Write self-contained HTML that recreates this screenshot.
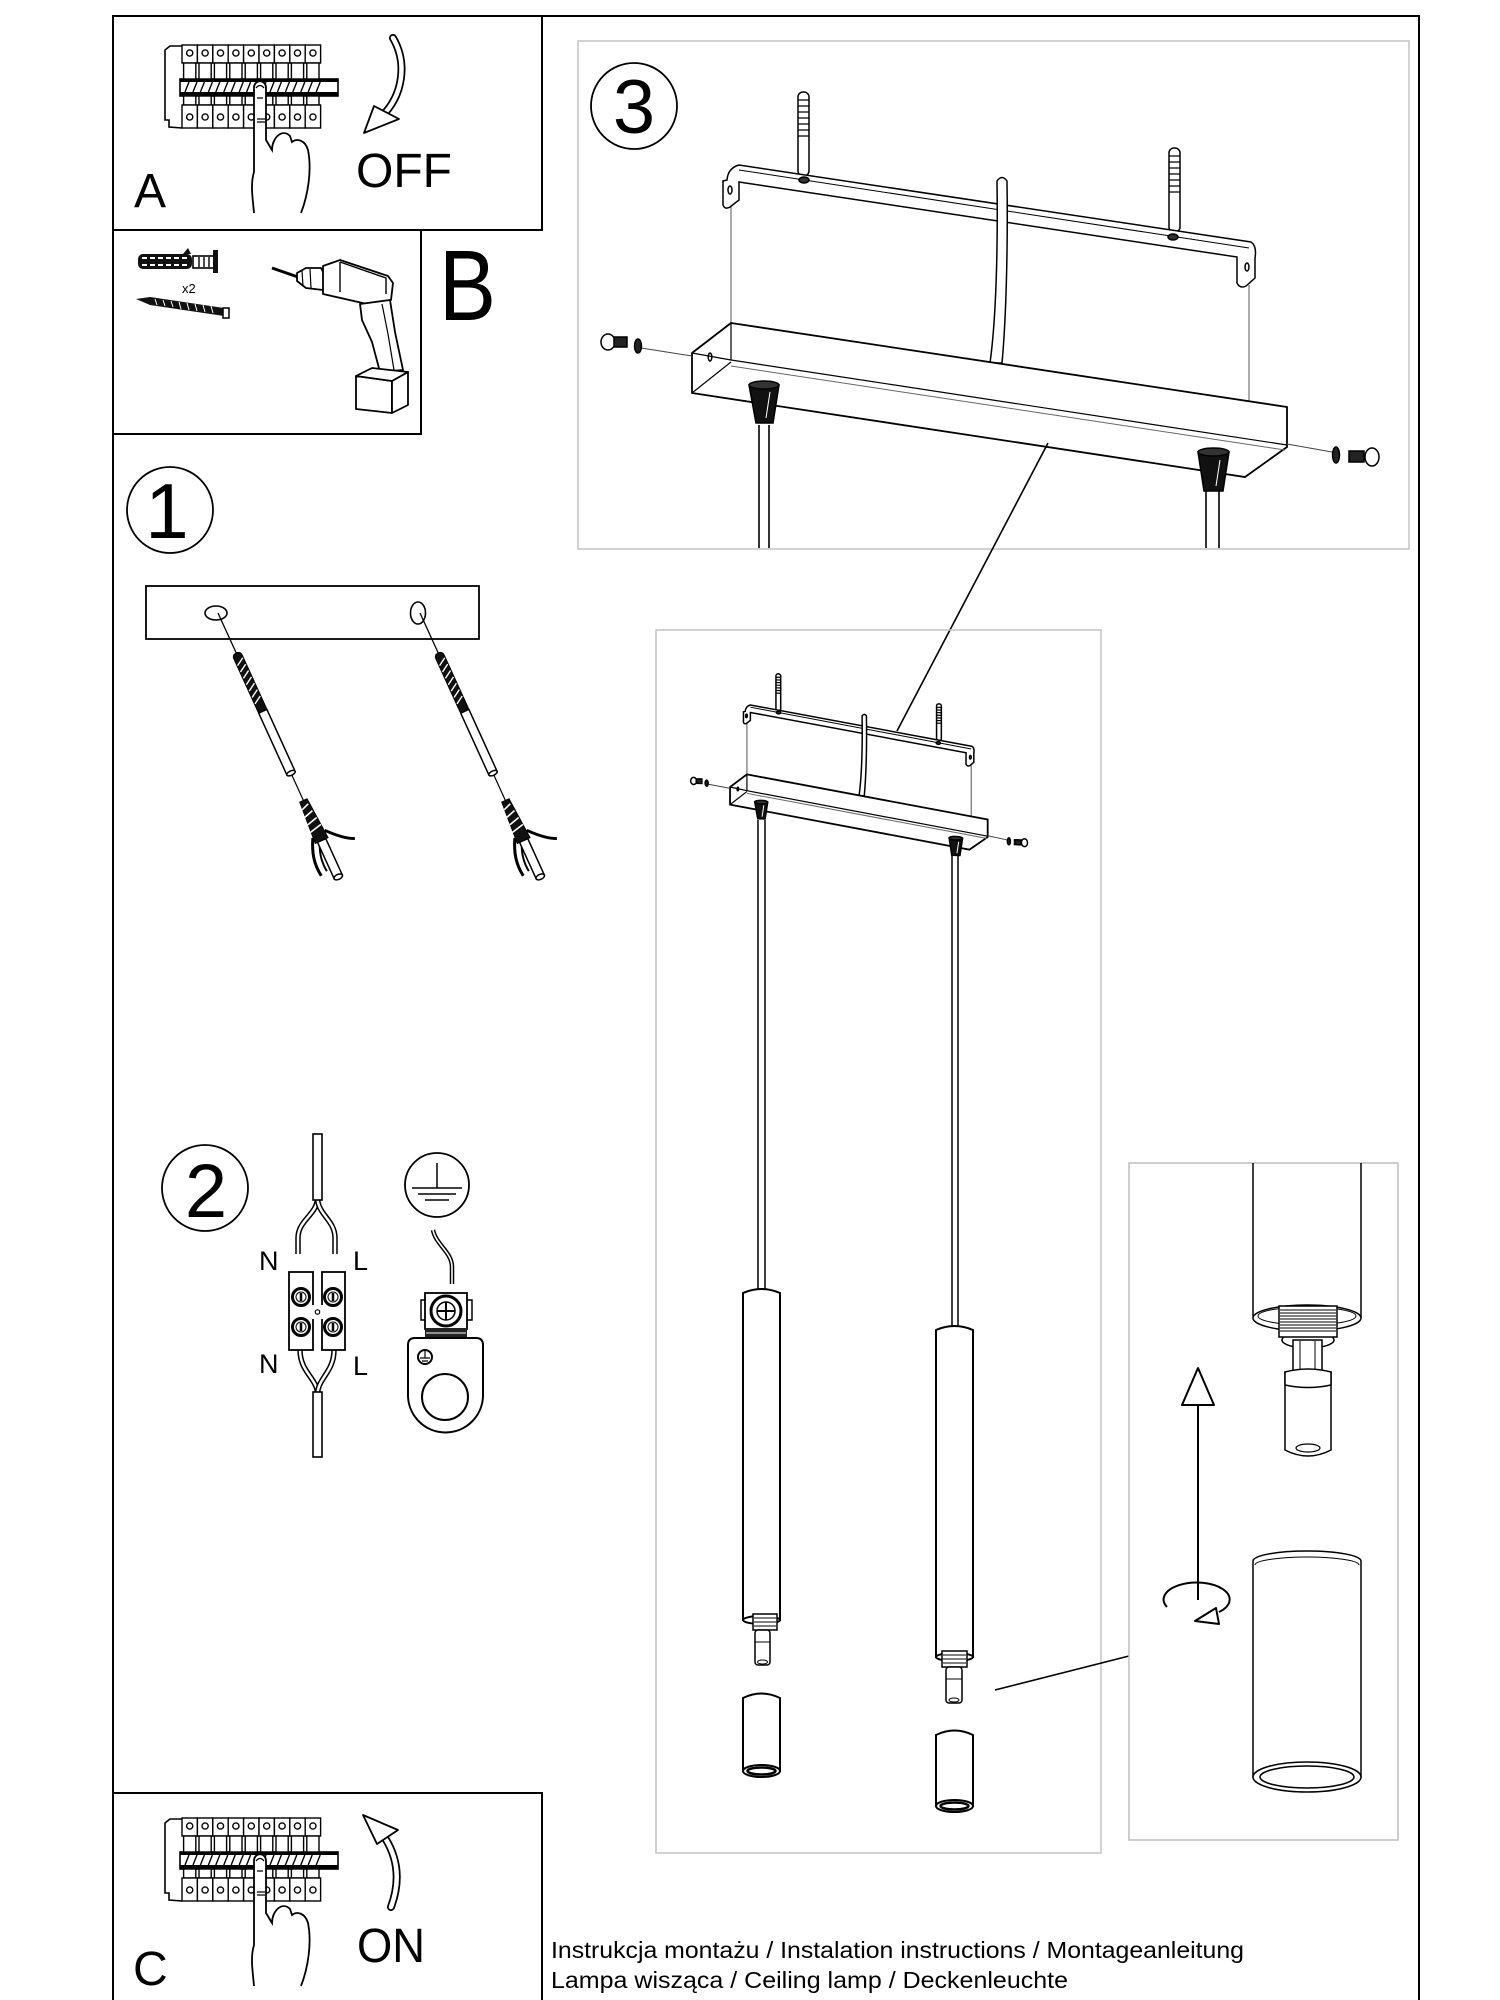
<!DOCTYPE html>
<html><head><meta charset="utf-8">
<style>
html,body{margin:0;padding:0;background:#fff}
svg{display:block}
text{font-family:"Liberation Sans",Arial,sans-serif;fill:#000}
.c *{vector-effect:non-scaling-stroke}
</style></head>
<body>
<svg width="1500" height="2000" viewBox="0 0 1500 2000" xmlns="http://www.w3.org/2000/svg">
<rect width="1500" height="2000" fill="#fff"/>
<defs>
 <g id="mod" stroke="#000" fill="#fff" stroke-width="1.4">
  <rect x="0" y="45" width="15.4" height="18"/>
  <circle cx="7.7" cy="53" r="3.1"/>
  <rect x="1.6" y="63" width="12.2" height="16"/>
  <rect x="1.6" y="96" width="12.2" height="9"/>
  <rect x="0" y="105" width="15.4" height="23"/>
  <circle cx="7.7" cy="117" r="3.1"/>
  <path d="M3,92 L7,82 M11,92 L15,82" fill="none"/>
 </g>
 <g id="brk">
  <path d="M182,46 L170,46 L165,50 L165,120 L169,120 L169,127 L182,128" fill="#fff" stroke="#000" stroke-width="1.6"/>
  <rect x="180" y="79" width="158" height="17" fill="#fff" stroke="#000" stroke-width="1.6"/>
  <rect x="180" y="79" width="158" height="3"/>
  <rect x="180" y="92" width="158" height="4"/>
  <use href="#mod" x="182"/><use href="#mod" x="197.4"/><use href="#mod" x="212.8"/>
  <use href="#mod" x="228.2"/><use href="#mod" x="243.6"/><use href="#mod" x="259"/>
  <use href="#mod" x="274.4"/><use href="#mod" x="289.8"/><use href="#mod" x="305.2"/>
  <path d="M254,213 C253,200 250,185 254,172 L254,88 C254,79 266,79 266,88 L266,140 C268,143 270,147 272,150 C272,138 282,128 290,136 L292,142 C297,138 305,140 308,150 C312,170 308,195 301,213" fill="#fff" stroke="#000" stroke-width="1.8"/>
  <path d="M256,88 Q260,83 264,88 M257,98 L263,98 M257,119 L265,119 M257,122 L265,122" fill="none" stroke="#000" stroke-width="1.2"/>
 </g>
 <g id="anc" stroke="#000">
  <line x1="0" y1="0" x2="0" y2="46" stroke-width="1.3"/>
  <rect x="-4.5" y="44" width="9" height="66" rx="4" fill="#111" stroke-width="1.2"/>
  <path d="M-4,56 L4,51 M-4,63 L4,58 M-4,70 L4,65 M-4,77 L4,72 M-4,84 L4,79 M-4,91 L4,86 M-4,98 L4,93" stroke="#fff" stroke-width="1.4"/>
  <rect x="-4.5" y="108" width="9" height="68" fill="#fff" stroke-width="1.5"/>
  <ellipse cx="0" cy="176" rx="4.5" ry="2.2" fill="#fff" stroke-width="1.5"/>
  <line x1="0" y1="178" x2="0" y2="206" stroke-width="1.2"/>
  <path d="M-4,206 L4,206 L7,250 L-7,250 Z" fill="#111"/>
  <path d="M-5,214 L3,211 M-6,222 L4,219 M-6,230 L5,227 M-7,238 L6,235" stroke="#fff" stroke-width="1.6"/>
  <path d="M-7,244 C-14,257 -17,268 -15,282" fill="none" stroke-width="3"/>
  <path d="M-3,252 C-8,262 -9,272 -8,280" fill="none" stroke-width="2"/>
  <path d="M7,242 C14,250 22,258 31,262" fill="none" stroke-width="3"/>
  <rect x="-4.5" y="250" width="9" height="40" fill="#fff" stroke-width="1.5"/>
  <ellipse cx="0" cy="290" rx="4.5" ry="2.5" fill="#fff" stroke-width="1.5"/>
 </g>
 <g id="canopy" class="c" stroke="#000" fill="none" stroke-width="1.5">
  <!-- anchors -->
  <rect x="798" y="92" width="11" height="84" rx="5" fill="#fff"/>
  <path d="M798,100 H809 M798,106 H809 M798,112 H809 M798,118 H809 M798,124 H809 M798,130 H809 M798,136 H809" stroke-width="1.2"/>
  <rect x="1169" y="148" width="11" height="84" rx="5" fill="#fff"/>
  <path d="M1169,156 H1180 M1169,162 H1180 M1169,168 H1180 M1169,174 H1180 M1169,180 H1180 M1169,186 H1180 M1169,192 H1180" stroke-width="1.2"/>
  <!-- plate lines -->
  <path d="M731,206 L731,323 M1249,285 L1249,402" stroke="#555" stroke-width="1"/>
  <!-- bracket -->
  <path d="M727,180 Q728,168 739,165 L1251,242 Q1257,246 1255,258 L1255,278 L1246,286 Q1240,289 1237,283 L1237,257 L739,182 L739,200 L730,207 Q725,210 723,205 L723,181 Z" fill="#fff"/>
  <path d="M739,170 L1249,248" stroke-width="1"/>
  <ellipse cx="730" cy="190" rx="2" ry="4"/>
  <ellipse cx="1247" cy="267" rx="2" ry="4"/>
  <ellipse cx="804" cy="180" rx="5" ry="3" fill="#333"/>
  <ellipse cx="1173" cy="237" rx="5" ry="3" fill="#333"/>
  <!-- cable -->
  <path d="M997,181 C998,250 996,320 990,363 L1002,363 C1006,320 1008,250 1007,181 Q1002,174 997,181 Z" fill="#fff"/>
  <!-- canopy box -->
  <path d="M731,323 L1287,407 L1287,447 L1245,477 L692,393 L692,353 Z" fill="#fff" stroke-width="1.8"/>
  <path d="M692,353 L731,360 L1287,445 M731,323 L731,360 M692,393 L731,362" stroke-width="1.2"/>
  <path d="M731,366 L1285,450" stroke="#666" stroke-width="1"/>
  <ellipse cx="710" cy="357" rx="1.8" ry="4"/>
  <!-- knobs -->
  <path d="M749,385 L779,385 L773,423 L756,423 Z" fill="#111"/>
  <ellipse cx="764" cy="385" rx="15" ry="4" fill="#333"/>
  <path d="M770,392 L766,418" stroke="#fff" stroke-width="1"/>
  <path d="M1198,452 L1229,452 L1223,491 L1204,491 Z" fill="#111"/>
  <ellipse cx="1213.5" cy="452" rx="15.5" ry="4" fill="#333"/>
  <path d="M1220,460 L1216,486" stroke="#fff" stroke-width="1"/>
  <!-- screws -->
  <path d="M641,348 L692,356 M1287,444 L1332,452" stroke="#444" stroke-width="1"/>
  <ellipse cx="608" cy="342" rx="7" ry="8" fill="#fff"/>
  <rect x="614" y="337" width="13" height="10" fill="#222"/>
  <ellipse cx="638" cy="346" rx="3.5" ry="7" fill="#222"/>
  <ellipse cx="1336" cy="455" rx="3.5" ry="8" fill="#222"/>
  <rect x="1349" y="451" width="15" height="11" fill="#222"/>
  <ellipse cx="1372" cy="457" rx="7" ry="9" fill="#fff"/>
 </g>
</defs>

<!-- page frame -->
<path d="M113,2000 L113,16 L1419,16 L1419,2000" fill="none" stroke="#000" stroke-width="2"/>
<rect x="113" y="16" width="429" height="214" fill="none" stroke="#000" stroke-width="2"/>
<rect x="113" y="230" width="308" height="204" fill="none" stroke="#000" stroke-width="2"/>
<path d="M113,1793 L542,1793 L542,2000" fill="none" stroke="#000" stroke-width="2"/>

<!-- BOX A -->
<use href="#brk"/>
<path d="M393,38 C407,62 404,95 381,117" fill="none" stroke="#000" stroke-width="8" stroke-linecap="round"/>
<path d="M393,38 C407,62 404,95 381,117" fill="none" stroke="#fff" stroke-width="4.5" stroke-linecap="round"/>
<path d="M364,133 L374,106 L399,119 Z" fill="#fff" stroke="#000" stroke-width="1.8" stroke-linejoin="round"/>
<text x="356" y="187" font-size="48">OFF</text>
<text x="134" y="207" font-size="48">A</text>

<!-- BOX B -->
<rect x="138" y="254" width="54" height="15" rx="5" fill="#111"/>
<path d="M142,258 h5 M150,258 h5 M158,258 h5 M166,258 h5 M174,258 h5 M182,258 h5 M142,265 h5 M150,265 h5 M158,265 h5 M166,265 h5 M174,265 h5 M182,265 h5" stroke="#fff" stroke-width="2"/>
<path d="M183,254 L188,248 L191,254 Z" fill="#111"/>
<rect x="193" y="256" width="21" height="12" fill="#fff" stroke="#000" stroke-width="1.6"/>
<path d="M199,257 V267 M204,257 V267 M209,257 V267" stroke="#000" stroke-width="1.4"/>
<rect x="213" y="250" width="5" height="23" fill="#111"/>
<text x="182" y="293" font-size="13">x2</text>
<path d="M136,299 L150,297 L224,308 L224,316 L150,305 Z" fill="#111"/>
<path d="M155,299 l2,6 M163,300 l2,6 M171,301 l2,6 M179,302 l2,7 M187,303 l2,7 M195,304 l2,7 M203,305 l2,7 M211,306 l2,7" stroke="#fff" stroke-width="1"/>
<rect x="223" y="308" width="6" height="10" fill="#fff" stroke="#000" stroke-width="1.5"/>
<!-- drill -->
<g stroke="#000" stroke-width="1.8" fill="#fff" stroke-linejoin="round">
 <path d="M272,268 L298,277" stroke-width="3"/>
 <path d="M297,273 L306,268 L321,268 L325,276 L323,290 L306,288 L297,281 Z"/>
 <path d="M302,271 L303,286 M310,269 L311,288" fill="none" stroke-width="1.2"/>
 <path d="M323,266 L340,260 L388,276 L393,283 L391,300 L367,304 L323,294 Z"/>
 <path d="M340,262 L340,292 M340,262 L386,278 L386,294" fill="none" stroke-width="1.4"/>
 <path d="M360,304 L390,300 L395,332 L403,370 L380,372 L372,342 L362,320 Z"/>
 <path d="M382,304 L388,334 L394,370" fill="none" stroke-width="1.2"/>
 <path d="M356,376 L392,381 L392,413 L356,409 Z"/>
 <path d="M392,381 L408,372 L408,405 L392,413 Z"/>
 <path d="M356,376 L372,368 L408,372 L392,381 Z"/>
</g>
<text x="439" y="320" font-size="100" textLength="57" lengthAdjust="spacingAndGlyphs">B</text>

<!-- STEP 1 -->
<circle cx="170" cy="510" r="43" fill="none" stroke="#000" stroke-width="1.8"/>
<text x="167" y="538" font-size="78" text-anchor="middle">1</text>
<rect x="146" y="586" width="333" height="53" fill="#fff" stroke="#000" stroke-width="1.8"/>
<ellipse cx="216" cy="613" rx="11" ry="7" fill="#fff" stroke="#000" stroke-width="1.6"/>
<ellipse cx="418" cy="613" rx="7.5" ry="11" fill="#fff" stroke="#000" stroke-width="1.6"/>
<use href="#anc" transform="translate(218,613) rotate(-24.5)"/>
<use href="#anc" transform="translate(420,613) rotate(-24.5)"/>

<!-- STEP 2 -->
<circle cx="205" cy="1188" r="43" fill="none" stroke="#000" stroke-width="1.8"/>
<text x="206" y="1217" font-size="76" text-anchor="middle">2</text>
<g fill="none" stroke-linecap="butt">
 <path d="M317.5,1198 C317,1215 298,1220 298,1238 L298,1254" stroke="#000" stroke-width="5.5"/>
 <path d="M317.5,1198 C317,1215 298,1220 298,1238 L298,1254" stroke="#fff" stroke-width="2.5"/>
 <path d="M317.5,1198 C318,1215 335,1220 335,1238 L335,1254" stroke="#000" stroke-width="5.5"/>
 <path d="M317.5,1198 C318,1215 335,1220 335,1238 L335,1254" stroke="#fff" stroke-width="2.5"/>
 <path d="M300,1350 C300,1372 317,1378 317.5,1394" stroke="#000" stroke-width="5.5"/>
 <path d="M300,1350 C300,1372 317,1378 317.5,1394" stroke="#fff" stroke-width="2.5"/>
 <path d="M334,1350 C334,1372 318,1378 317.5,1394" stroke="#000" stroke-width="5.5"/>
 <path d="M334,1350 C334,1372 318,1378 317.5,1394" stroke="#fff" stroke-width="2.5"/>
</g>
<rect x="313" y="1134" width="9" height="66" fill="#fff" stroke="#000" stroke-width="1.6"/>
<rect x="313" y="1392" width="9" height="65" fill="#fff" stroke="#000" stroke-width="1.6"/>
<rect x="289" y="1272" width="24" height="78" fill="#fff" stroke="#000" stroke-width="1.8"/>
<rect x="322" y="1272" width="23" height="78" fill="#fff" stroke="#000" stroke-width="1.8"/>
<rect x="312" y="1305" width="11" height="14" fill="#fff" stroke="none"/>
<circle cx="317.5" cy="1312" r="2.2" fill="#fff" stroke="#000" stroke-width="1.2"/>
<g fill="#fff" stroke="#000">
 <circle cx="301" cy="1297" r="8.5" stroke-width="3"/><circle cx="301" cy="1297" r="5" stroke-width="1"/>
 <circle cx="333" cy="1297" r="8.5" stroke-width="3"/><circle cx="333" cy="1297" r="5" stroke-width="1"/>
 <circle cx="301" cy="1327" r="8.5" stroke-width="3"/><circle cx="301" cy="1327" r="5" stroke-width="1"/>
 <circle cx="333" cy="1327" r="8.5" stroke-width="3"/><circle cx="333" cy="1327" r="5" stroke-width="1"/>
</g>
<path d="M301,1293 V1301 M333,1293 V1301 M301,1323 V1331 M333,1323 V1331" stroke="#000" stroke-width="2.5"/>
<text x="259" y="1270" font-size="27">N</text>
<text x="353" y="1270" font-size="27">L</text>
<text x="259" y="1373" font-size="27">N</text>
<text x="353" y="1375" font-size="27">L</text>
<circle cx="437" cy="1185" r="32" fill="none" stroke="#000" stroke-width="1.8"/>
<path d="M437,1163 V1188 M412,1188 H462 M418,1194 H456 M425,1200 H449" stroke="#000" stroke-width="1.5"/>
<path d="M433,1230 C436,1245 452,1252 452,1267 L452,1284" fill="none" stroke="#000" stroke-width="4.5"/>
<path d="M433,1230 C436,1245 452,1252 452,1267 L452,1284" fill="none" stroke="#fff" stroke-width="1.6"/>
<rect x="421" y="1300" width="6" height="20" fill="#fff" stroke="#000" stroke-width="1.5"/>
<rect x="466" y="1300" width="6" height="20" fill="#fff" stroke="#000" stroke-width="1.5"/>
<rect x="425" y="1293" width="42" height="36" fill="#fff" stroke="#000" stroke-width="1.8"/>
<circle cx="446" cy="1311" r="15" fill="#fff" stroke="#000" stroke-width="3"/>
<circle cx="446" cy="1311" r="9" fill="#fff" stroke="#000" stroke-width="1.5"/>
<path d="M437,1311 H455 M446,1302 V1320" stroke="#000" stroke-width="2"/>
<rect x="425" y="1328" width="42" height="10" fill="#222"/>
<path d="M426,1333 H466" stroke="#fff" stroke-width="1"/>
<path d="M408,1345 Q408,1338 415,1338 L476,1338 Q483,1338 483,1345 L483,1395 A37.5,37.5 0 0,1 408,1395 Z" fill="#fff" stroke="#000" stroke-width="2"/>
<circle cx="445" cy="1397" r="23" fill="#fff" stroke="#000" stroke-width="2"/>
<circle cx="425" cy="1357" r="7" fill="#fff" stroke="#000" stroke-width="2"/>
<path d="M425,1351 V1358 M420,1358 H430 M422,1361 H428" stroke="#000" stroke-width="1.2"/>

<!-- STEP 3 PANEL -->
<rect x="578" y="41" width="831" height="508" fill="none" stroke="#c4c4c4" stroke-width="1.5"/>
<circle cx="634" cy="106" r="43" fill="none" stroke="#000" stroke-width="1.8"/>
<text x="634" y="133" font-size="76" text-anchor="middle">3</text>
<use href="#canopy"/>
<path d="M759,425 V548 M769,425 V548 M1206,491 V548 M1219,491 V548" stroke="#000" stroke-width="1.6"/>
<line x1="1048" y1="443" x2="897" y2="731" stroke="#000" stroke-width="1.6"/>

<!-- CENTRAL PANEL -->
<rect x="656" y="630" width="445" height="1223" fill="none" stroke="#c4c4c4" stroke-width="1.5"/>
<use href="#canopy" transform="matrix(0.433,0.0146,0,0.44,430.4,621.6)"/>
<path d="M758,820 V1290 M765,820 V1290 M952,856 V1327 M958,856 V1327" stroke="#000" stroke-width="1.5"/>
<g stroke="#000" fill="#fff" stroke-width="2">
 <path d="M743,1293 Q761.5,1285 780,1293 L780,1620 L743,1620 Z"/>
 <ellipse cx="761.5" cy="1620" rx="18.5" ry="4"/>
 <rect x="753" y="1614" width="24" height="16" stroke-width="1.5"/>
 <path d="M754,1618 H776 M754,1622 H776 M754,1626 H776" stroke-width="1"/>
 <rect x="755" y="1630" width="15" height="35" rx="3" stroke-width="1.5"/>
 <path d="M755,1642 H770" stroke-width="1"/>
 <ellipse cx="762.5" cy="1662" rx="5" ry="2" stroke-width="1"/>
 <path d="M743,1698 Q761.5,1689 780,1698 L780,1771 L743,1771 Z"/>
 <ellipse cx="761.5" cy="1771" rx="18.5" ry="6"/>
 <ellipse cx="761.5" cy="1771" rx="14" ry="3.5" stroke-width="2.5"/>
 <path d="M936,1330 Q954.5,1322 973,1330 L973,1657 L936,1657 Z"/>
 <ellipse cx="954.5" cy="1657" rx="18.5" ry="4"/>
 <rect x="942" y="1651" width="25" height="16" stroke-width="1.5"/>
 <path d="M943,1655 H966 M943,1659 H966 M943,1663 H966" stroke-width="1"/>
 <rect x="946" y="1667" width="16" height="36" rx="3" stroke-width="1.5"/>
 <path d="M946,1679 H962" stroke-width="1"/>
 <ellipse cx="954" cy="1700" rx="5" ry="2" stroke-width="1"/>
 <path d="M936,1735 Q954.5,1726 973,1735 L973,1806 L936,1806 Z"/>
 <ellipse cx="954.5" cy="1806" rx="18.5" ry="6"/>
 <ellipse cx="954.5" cy="1806" rx="14" ry="3.5" stroke-width="2.5"/>
</g>
<line x1="995" y1="1690" x2="1129" y2="1656" stroke="#000" stroke-width="1.6"/>

<!-- DETAIL PANEL -->
<rect x="1129" y="1163" width="269" height="677" fill="none" stroke="#bdbdbd" stroke-width="1.5"/>
<g stroke="#000" fill="#fff" stroke-width="1.5">
 <path d="M1253,1163 L1253,1318 M1361,1163 L1361,1318" fill="none"/>
 <ellipse cx="1307" cy="1318" rx="54" ry="13"/>
 <ellipse cx="1307" cy="1316" rx="49" ry="9" stroke-width="1"/>
 <ellipse cx="1308" cy="1340" rx="26" ry="8"/>
 <rect x="1279" y="1306" width="58" height="31"/>
 <path d="M1280,1310 H1336 M1280,1313 H1336 M1280,1316 H1336 M1280,1319 H1336 M1280,1322 H1336 M1280,1325 H1336 M1280,1328 H1336 M1280,1331 H1336" stroke-width="1"/>
 <rect x="1293" y="1340" width="29" height="31"/>
 <path d="M1300,1341 V1370 M1315,1341 V1370" stroke-width="1"/>
 <path d="M1285,1372 L1285,1450 Q1308,1462 1331,1450 L1331,1372 Z"/>
 <path d="M1285,1372 Q1308,1366 1331,1372 L1331,1385 Q1308,1390 1285,1385 Z"/>
 <ellipse cx="1308" cy="1448" rx="12" ry="4" stroke-width="1.2"/>
 <path d="M1253,1561 A54,10 0 0,1 1361,1561 L1361,1777 L1253,1777 Z"/>
 <path d="M1255,1565 A52,8 0 0,1 1359,1565" fill="none" stroke-width="1"/>
 <ellipse cx="1307" cy="1777" rx="54" ry="15"/>
 <ellipse cx="1307" cy="1777" rx="47" ry="11" stroke-width="1.5"/>
</g>
<path d="M1198,1404 V1600" stroke="#000" stroke-width="2"/>
<path d="M1198,1368 L1182,1405 L1214,1405 Z" fill="#fff" stroke="#000" stroke-width="2" stroke-linejoin="round"/>
<path d="M1167,1607 A33,17 0 1,1 1219,1612" fill="none" stroke="#000" stroke-width="2"/>
<path d="M1195,1621 L1216,1608 L1219,1624 Z" fill="#fff" stroke="#000" stroke-width="2" stroke-linejoin="round"/>

<!-- BOX C -->
<use href="#brk" transform="translate(0,1773)"/>
<path d="M391,1907 C401,1880 397,1857 385,1838" fill="none" stroke="#000" stroke-width="8" stroke-linecap="round"/>
<path d="M391,1907 C401,1880 397,1857 385,1838" fill="none" stroke="#fff" stroke-width="4.5" stroke-linecap="round"/>
<path d="M363,1815 L377,1844 L398,1830 Z" fill="#fff" stroke="#000" stroke-width="1.8" stroke-linejoin="round"/>
<text x="357" y="1962" font-size="48" textLength="68" lengthAdjust="spacingAndGlyphs">ON</text>
<text x="133" y="1985" font-size="48">C</text>

<!-- footer text -->
<text x="551" y="1958" font-size="23" textLength="693" lengthAdjust="spacingAndGlyphs">Instrukcja montażu / Instalation instructions / Montageanleitung</text>
<text x="551" y="1988" font-size="23" textLength="517" lengthAdjust="spacingAndGlyphs">Lampa wisząca / Ceiling lamp / Deckenleuchte</text>
</svg>
</body></html>
